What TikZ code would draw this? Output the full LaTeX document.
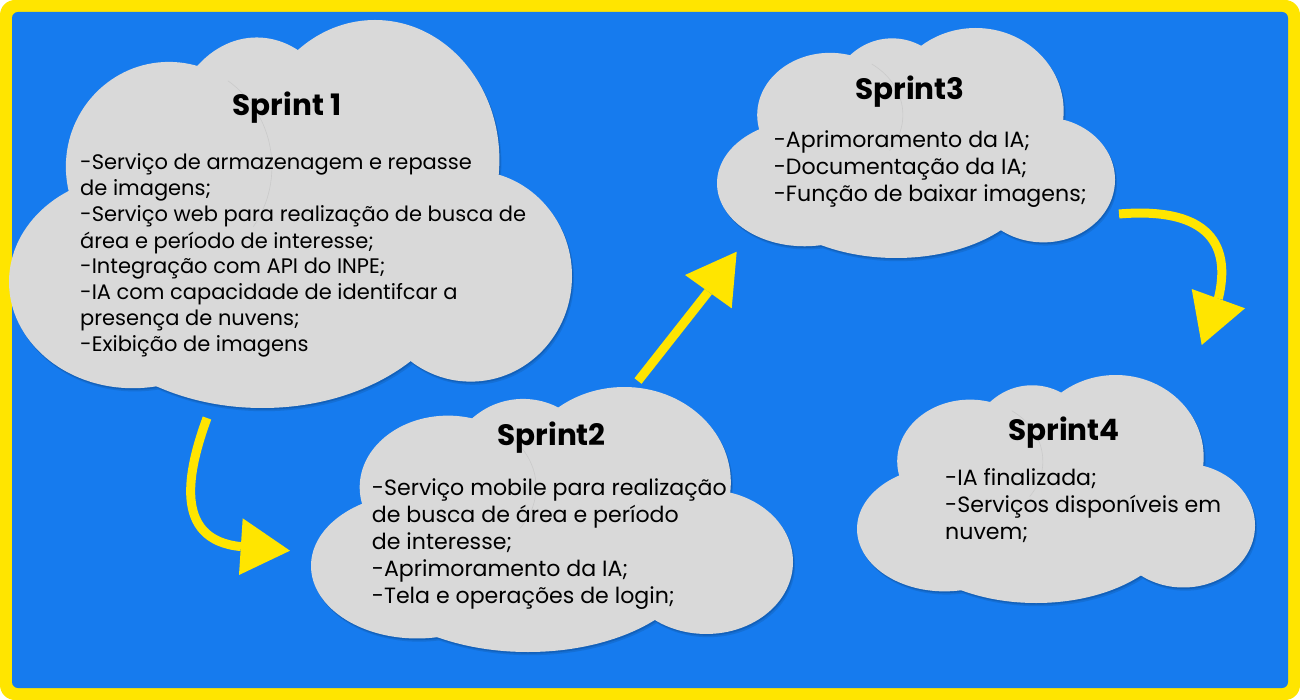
\documentclass[tikz,border=0pt]{standalone}
\usepackage{fontspec}
\setmainfont{Poppins}
\definecolor{bgblue}{RGB}{22,123,238}
\definecolor{frameyellow}{RGB}{255,229,0}
\definecolor{cloudgray}{RGB}{217,217,217}
\definecolor{arcgray}{RGB}{202,202,202}
\colorlet{shadowA}{bgblue!90!black}
\colorlet{shadowB}{bgblue!78!black}
% cloud outline as a union of ellipses in a 100 x 100 box
\newcommand\cloudshapes[1]{%
  \fill[#1] (28.4,37.8) ellipse [x radius=18.3, y radius=27];
  \fill[#1] (44,34) ellipse [x radius=16, y radius=29.5];
  \fill[#1] (65,36) ellipse [x radius=22.1, y radius=36];
  \fill[#1] (82,66) ellipse [x radius=18, y radius=27.2];
  \fill[#1] (45,62) ellipse [x radius=36, y radius=38];
  \fill[#1] (22,67.5) ellipse [x radius=22, y radius=27.4];
  \fill[#1] (12,45) -- (33,14) -- (51,9) -- (86,40) -- (71,87) -- (28,92) -- (7,86) -- cycle;}
% #1 x0, #2 y0, #3 width, #4 height
\newcommand\drawcloud[4]{%
  \begin{scope}[shift={(#1+2,#2+3.2)},xscale=#3/100,yscale=#4/100]
    \cloudshapes{shadowA}
  \end{scope}
  \begin{scope}[shift={(#1+1,#2+1.6)},xscale=#3/100,yscale=#4/100]
    \cloudshapes{shadowB}
  \end{scope}
  \begin{scope}[shift={(#1,#2)},xscale=#3/100,yscale=#4/100]
    \cloudshapes{cloudgray}
    \draw[arcgray,line width=0.6pt] (28.4,37.8) ++(-55:18.3 and 27)
      arc[start angle=-55, end angle=35, x radius=18.3, y radius=27];
  \end{scope}}
\tikzset{
  title/.style={anchor=base, inner sep=0pt, font=\bfseries\fontsize{29.5}{34}\selectfont},
  bodyA/.style={anchor=north west, inner sep=0pt, align=left, font=\fontsize{21}{26}\selectfont},
  bodyB/.style={anchor=north west, inner sep=0pt, align=left, font=\fontsize{22.1}{27}\selectfont},
  shaft/.style={draw=frameyellow, line width=9pt, line cap=butt},
  head/.style={fill=frameyellow}
}
\begin{document}
\begin{tikzpicture}[x=1pt,y=-1pt]
\useasboundingbox (0,0) rectangle (1300,700);
\fill[frameyellow, rounded corners=15pt] (0,0) rectangle (1300,700);
\fill[bgblue, rounded corners=6pt] (12,12) rectangle (1288,688);

\drawcloud{9}{20}{563}{388}
\drawcloud{311}{387}{482}{265}
\drawcloud{717}{28}{398}{230}
\drawcloud{857}{375}{398}{228}

% Sprint 1
\node[title] (t1) at (287,116) {Sprint 1};
\node[bodyA] (b1) at (80,149.8) {\rule{0pt}{20pt}-Serviço de armazenagem e repasse\\
de imagens;\\
-Serviço web para realização de busca de\\
área e período de interesse;\\
-Integração com API do INPE;\\
-IA com capacidade de identifcar a\\
presença de nuvens;\\
-Exibição de imagens};

% Sprint 2
\node[title] (t2) at (551.7,445) {Sprint2};
\node[bodyB] (b2) at (371.7,475.5) {\rule{0pt}{20pt}-Serviço mobile para realização\\
de busca de área e período\\
de interesse;\\
-Aprimoramento da IA;\\
-Tela e operações de login;};

% Sprint 3
\node[title] (t3) at (910,100) {Sprint3};
\node[bodyB] (b3) at (773.6,127.8) {\rule{0pt}{20pt}-Aprimoramento da IA;\\
-Documentação da IA;\\
-Função de baixar imagens;};

% Sprint 4
\node[title] (t4) at (1064,440) {Sprint4};
\node[bodyB] (b4) at (945,465) {\rule{0pt}{20pt}-IA finalizada;\\
-Serviços disponíveis em\\
nuvem;};

% Arrows
\coordinate (a1s) at (207,418);
\coordinate (a1e) at (241,546.6);
\coordinate (h1a) at (242.7,518.3);
\coordinate (h1t) at (290,550.7);
\coordinate (h1b) at (239,575);
\draw[shaft] (a1s) .. controls (188,470) and (172,540) .. (a1e);
\fill[head] (h1a) -- (h1t) -- (h1b) -- cycle;

\coordinate (a2s) at (638,381);
\coordinate (a2e) at (708.3,291.7);
\coordinate (h2a) at (685,275);
\coordinate (h2t) at (736.7,251.7);
\coordinate (h2b) at (731.7,308.3);
\draw[shaft] (a2s) -- (a2e);
\fill[head] (h2a) -- (h2t) -- (h2b) -- cycle;

\coordinate (a3s) at (1119,214);
\coordinate (a3e) at (1218.3,298.7);
\coordinate (h3a) at (1191.7,289);
\coordinate (h3t) at (1201.7,345);
\coordinate (h3b) at (1245,308.3);
\draw[shaft] (a3s) .. controls (1190,208) and (1235,230) .. (a3e);
\fill[head] (h3a) -- (h3b) -- (h3t) -- cycle;
\end{tikzpicture}
\end{document}
